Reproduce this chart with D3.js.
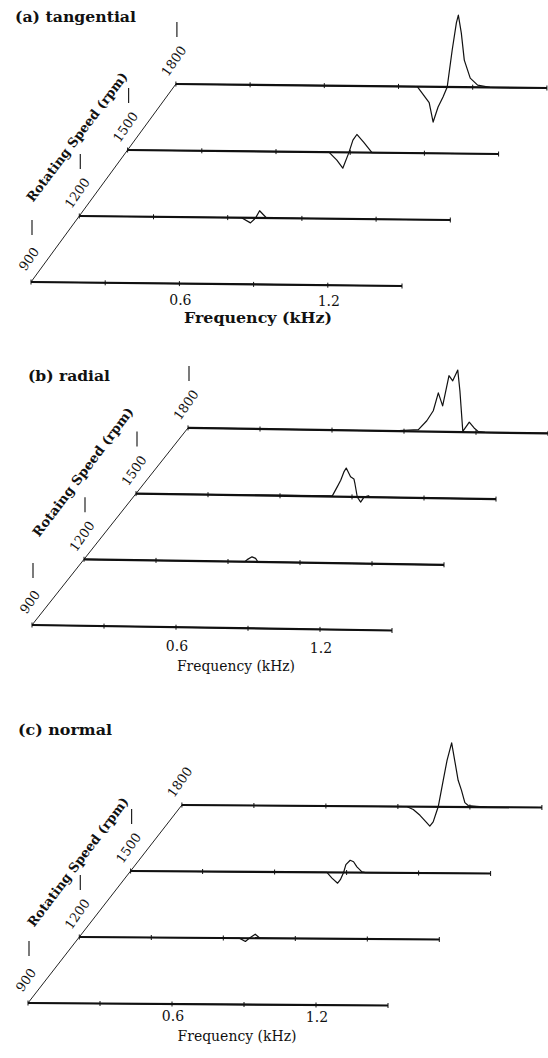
<!DOCTYPE html>
<html>
<head>
<meta charset="utf-8">
<script src="https://cdn.jsdelivr.net/npm/d3@7"></script>
<style>
  body { margin: 0; background: #fff; }
  svg text { font-family: "DejaVu Serif", "Liberation Serif", serif; fill: #111; }
</style>
</head>
<body>
<div id="chart"></div>
<script>
'use strict';

// rotating speeds (rpm) and frequency axis (kHz)
const speeds = [900, 1200, 1500, 1800];
const freqTicks = [0, 0.3, 0.6, 0.9, 1.2, 1.5];
const freqLabels = [0.6, 1.2];

const panelTitles = ['(a) tangential', '(b) radial', '(c) normal'];
const speedTitles = ['Rotating Speed (rpm)', 'Rotaing Speed (rpm)', 'Rotating Speed (rpm)'];
const freqTitle = 'Frequency (kHz)';

// spectra, [frequency kHz, amplitude (arb.)]
const tan900 = [[0, 0], [1.5, 0]];
const tan1200 = [[0, 0], [0.656, 0], [0.692, -0.07], [0.713, 0], [0.729, 0.1], [0.757, 0], [1.5, 0]];
const tan1500 = [[0, 0], [0.814, 0], [0.846, -0.11], [0.87, -0.22], [0.895, 0], [0.911, 0.17],
  [0.927, 0.25], [0.955, 0.14], [0.988, 0], [1.5, 0]];
const tan1800 = [[0, 0], [0.976, 0], [1.0, -0.11], [1.024, -0.22], [1.04, -0.49], [1.06, -0.28],
  [1.08, -0.14], [1.097, 0], [1.117, 0.51], [1.134, 0.89], [1.142, 1.0], [1.154, 0.75],
  [1.166, 0.375], [1.19, 0.125], [1.22, 0.03], [1.27, 0], [1.5, 0]];

const rad900 = [[0, 0], [1.5, 0]];
const rad1200 = [[0, 0], [0.67, 0], [0.68, 0.03], [0.7, 0.07], [0.715, 0.05], [0.725, 0], [1.5, 0]];
const rad1500 = [[0, 0], [0.818, 0.01], [0.839, 0.14], [0.853, 0.23], [0.867, 0.35], [0.876, 0.4],
  [0.894, 0.28], [0.908, 0.25], [0.9125, 0.18], [0.922, 0], [0.936, -0.07], [0.95, 0],
  [0.968, 0.02], [0.978, 0], [1.5, 0]];
const rad1800 = [[0, 0], [0.84, 0], [0.96, 0.024], [0.995, 0.15], [1.022, 0.29], [1.043, 0.54],
  [1.061, 0.36], [1.0875, 0.78], [1.103, 0.71], [1.124, 0.86], [1.133, 0.57], [1.145, 0.01],
  [1.172, 0.14], [1.192, 0.06], [1.21, 0.01], [1.2375, 0], [1.5, 0]];

const nor900 = [[0, 0], [1.5, 0]];
const nor1200 = [[0, 0], [0.667, 0], [0.692, -0.046], [0.708, 0], [0.733, 0.056], [0.753, 0], [1.5, 0]];
const nor1500 = [[0, 0], [0.818, 0], [0.839, -0.08], [0.8625, -0.15], [0.874, -0.1], [0.8875, 0],
  [0.897, 0.11], [0.915, 0.17], [0.929, 0.15], [0.943, 0.08], [0.964, 0.01], [0.978, 0], [1.5, 0]];
const nor1800 = [[0, 0], [0.936, 0], [0.964, -0.04], [0.992, -0.12], [1.017, -0.21], [1.033, -0.27],
  [1.047, -0.21], [1.061, -0.07], [1.068, 0], [1.089, 0.37], [1.105, 0.65], [1.124, 0.89],
  [1.1375, 0.63], [1.151, 0.37], [1.165, 0.23], [1.179, 0.06], [1.193, 0.02], [1.228, 0.01],
  [1.27, 0], [1.5, 0]];

const spectra = [
  [tan900, tan1200, tan1500, tan1800],
  [rad900, rad1200, rad1500, rad1800],
  [nor900, nor1200, nor1500, nor1800]
];

// where each panel sits on the page
const layout = [
  { origin: [31, 282], step: [48.3, -66], len: 371, tilt: 4,
    title: [15, 22, 121], speedTitle: [77, 137, 158], freqTitle: [258, 323, 148, 'bold'],
    tickLabelY: 21, zTicks: [true, true, true, true] },
  { origin: [32, 625], step: [52, -65.7], len: 360, tilt: 5.5,
    title: [28, 381, 82], speedTitle: [83, 472, 158], freqTitle: [236, 671, 118, 'normal'],
    tickLabelY: 24, zTicks: [true, true, true, true] },
  { origin: [28, 1003], step: [51.3, -66], len: 360, tilt: 2.5,
    title: [18, 735, 94], speedTitle: [78, 862, 158], freqTitle: [237, 1041, 119, 'normal'],
    tickLabelY: 17, zTicks: [true, true, true, false] }
];

const width = 548;
const height = 1058;

const svg = d3.select('#chart').append('svg')
  .attr('width', width)
  .attr('height', height);

const amp = d3.scaleLinear().domain([0, 1]).range([0, -72]);

layout.forEach(function(p, i) {
  const g = svg.append('g').attr('class', 'panel');

  const fx = d3.scaleLinear().domain([0, 1.5]).range([0, p.len]);
  const tilt = d3.scaleLinear().domain([0, 1.5]).range([0, p.tilt]);
  const sx = d3.scaleLinear().domain([900, 1800])
    .range([p.origin[0], p.origin[0] + 3 * p.step[0]]);
  const sy = d3.scaleLinear().domain([900, 1800])
    .range([p.origin[1], p.origin[1] + 3 * p.step[1]]);

  // speed (depth) axis
  g.append('line')
    .attr('x1', sx(900)).attr('y1', sy(900))
    .attr('x2', sx(1800)).attr('y2', sy(1800))
    .attr('stroke', '#222').attr('stroke-width', 1);

  speeds.forEach(function(s, j) {
    const x0 = sx(s);
    const y0 = sy(s);

    // baseline of this spectrum
    g.append('line')
      .attr('x1', x0).attr('y1', y0)
      .attr('x2', x0 + fx(1.5)).attr('y2', y0 + tilt(1.5))
      .attr('stroke', '#111').attr('stroke-width', 2.2);

    g.selectAll(null)
      .data(freqTicks)
      .enter().append('line')
      .attr('x1', d => x0 + fx(d)).attr('x2', d => x0 + fx(d))
      .attr('y1', d => y0 + tilt(d) - 2.5).attr('y2', d => y0 + tilt(d) + 2.5)
      .attr('stroke', '#111').attr('stroke-width', 1);

    const line = d3.line()
      .x(d => x0 + fx(d[0]))
      .y(d => y0 + tilt(d[0]) + amp(d[1]));

    g.append('path')
      .datum(spectra[i][j])
      .attr('d', line)
      .attr('fill', 'none')
      .attr('stroke', '#111')
      .attr('stroke-width', 1.2)
      .attr('stroke-linejoin', 'round');

    // little vertical mark above each speed label
    if (p.zTicks[j]) {
      g.append('line')
        .attr('x1', x0 + 1).attr('x2', x0 + 1)
        .attr('y1', y0 - 62).attr('y2', y0 - 47)
        .attr('stroke', '#222').attr('stroke-width', 1.2);
    }

    g.append('text')
      .attr('transform', `translate(${x0 - 2},${y0 - 23}) rotate(-55)`)
      .attr('text-anchor', 'middle')
      .attr('dominant-baseline', 'central')
      .style('font-size', '13px')
      .text(s);
  });

  // frequency tick labels under the 900 rpm row
  g.selectAll(null)
    .data(freqLabels)
    .enter().append('text')
    .attr('x', d => sx(900) + fx(d) + 1)
    .attr('y', d => sy(900) + tilt(d) + p.tickLabelY)
    .attr('text-anchor', 'middle')
    .style('font-size', '14px')
    .text(d => d3.format('.1f')(d));

  g.append('text')
    .attr('x', p.freqTitle[0]).attr('y', p.freqTitle[1])
    .attr('text-anchor', 'middle')
    .attr('textLength', p.freqTitle[2])
    .attr('lengthAdjust', 'spacingAndGlyphs')
    .style('font-size', '14px')
    .style('font-weight', p.freqTitle[3])
    .text(freqTitle);

  g.append('text')
    .attr('transform', `translate(${p.speedTitle[0]},${p.speedTitle[1]}) rotate(-53)`)
    .attr('text-anchor', 'middle')
    .attr('dominant-baseline', 'central')
    .attr('textLength', p.speedTitle[2])
    .attr('lengthAdjust', 'spacingAndGlyphs')
    .style('font-size', '13px')
    .style('font-weight', 'bold')
    .text(speedTitles[i]);

  g.append('text')
    .attr('x', p.title[0]).attr('y', p.title[1])
    .attr('textLength', p.title[2])
    .attr('lengthAdjust', 'spacingAndGlyphs')
    .style('font-size', '15px')
    .style('font-weight', 'bold')
    .text(panelTitles[i]);
});
</script>
</body>
</html>
